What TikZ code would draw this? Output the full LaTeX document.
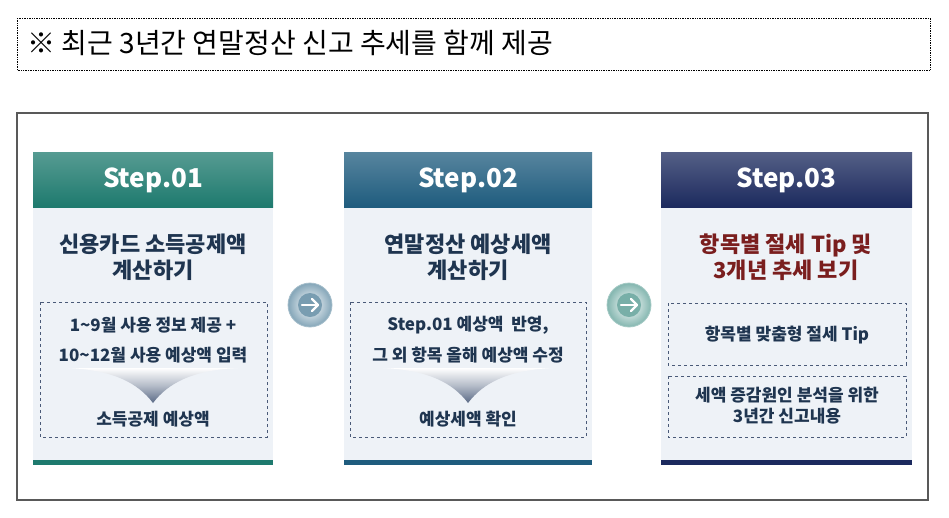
\documentclass[tikz,border=0pt]{standalone}
\usepackage{fontspec}
\setmainfont{Noto Sans CJK KR}
\usetikzlibrary{shadings}
\definecolor{cA}{HTML}{1E7A6E}
\definecolor{cB}{HTML}{1F5C7E}
\definecolor{cC}{HTML}{1C2A5E}
\definecolor{body}{HTML}{EEF2F7}
\definecolor{tblue}{HTML}{1F3550}
\definecolor{tred}{HTML}{7A1E1E}
\definecolor{dash}{HTML}{4A5A78}
\definecolor{chev}{HTML}{5A6A86}
\tikzset{
  hdr/.style={font=\fontsize{26}{28}\selectfont\bfseries, text=white},
  ttl/.style={font=\fontsize{22}{26}\selectfont\bfseries, align=center},
  sub/.style={font=\fontsize{17}{20}\selectfont\bfseries, text=tblue, align=center},
  dbox/.style={draw=dash, dashed, line width=0.6pt},
}
\begin{document}
\begin{tikzpicture}[x=1pt,y=-1pt]
\useasboundingbox (0,0) rectangle (949,517);
\fill[white] (0,0) rectangle (949,517);
\draw[densely dotted, line width=0.7pt, draw=black] (17,18) rectangle (930,70);
\node[anchor=west, font=\fontsize{28}{30}\selectfont] (title) at (24,43) {※ 최근 3년간 연말정산 신고 추세를 함께 제공};
\draw[line width=1.8pt, draw=black!65] (17,113) rectangle (928,500);
\foreach \xa/\xb/\c/\n in {33/273/cA/01, 344/592/cB/02, 661/912/cC/03}{
  \fill[body] (\xa,207) rectangle (\xb,460);
  \shade[top color=\c!75!white, bottom color=\c] (\xa,152) rectangle (\xb,207);
  \fill[\c] (\xa,460) rectangle (\xb,465);
  \node[hdr] (h\n) at ({(\xa+\xb)/2},180) {Step.\n};
}
\node[ttl, text=tblue] (t1) at (153,257) {신용카드 소득공제액\\계산하기};
\node[ttl, text=tblue] (t2) at (468,257) {연말정산 예상세액\\계산하기};
\node[ttl, text=tred] (t3) at (786,257) {항목별 절세 Tip 및\\3개년 추세 보기};
\draw[dbox] (40,302) rectangle (267,437);
\draw[dbox] (350,302) rectangle (586,437);
\draw[dbox] (668,303) rectangle (906,365);
\draw[dbox] (668,376) rectangle (906,437);
\foreach \cx in {153,468}{
  \shade[top color=white, bottom color=chev, middle color=chev!45]
    (\cx-85,368) .. controls (\cx-40,370) and (\cx-15,383) .. (\cx,403)
    .. controls (\cx+15,383) and (\cx+40,370) .. (\cx+85,368) -- cycle;
}
\node[sub] (a1) at (153,325) {1\textasciitilde 9월 사용 정보 제공 +};
\node[sub] (a2) at (153,355) {10\textasciitilde 12월 사용 예상액 입력};
\node[sub] (a3) at (153,419) {소득공제 예상액};
\node[sub] (b1) at (468,325) {Step.01 예상액\ \ 반영,};
\node[sub] (b2) at (468,355) {그 외 항목 올해 예상액 수정};
\node[sub] (b3) at (468,419) {예상세액 확인};
\node[sub] (c1) at (787,335) {항목별 맞춤형 절세 Tip};
\node[sub, font=\fontsize{17}{21}\selectfont\bfseries] (c2) at (787,406) {세액 증감원인 분석을 위한\\3년간 신고내용};
\foreach \cx/\nm/\c in {310/o1/cB, 629/o2/cA}{
  \shade[inner color=white, outer color=\c!55!white] (\cx,305) circle (22);
  \draw[\c!40!white, line width=0.8pt] (\cx,305) circle (22);
  \node[circle, minimum size=44pt, inner sep=0pt] (\nm) at (\cx,305) {};
  \fill[\c!60!white] (\cx,305) circle (12);
  \draw[white, line width=2.4pt, line cap=round] (\cx-8,305) -- (\cx+8,305);
  \draw[white, line width=2.4pt, line cap=round, line join=round] (\cx+2,299) -- (\cx+8,305) -- (\cx+2,311);
}
\end{tikzpicture}
\end{document}
